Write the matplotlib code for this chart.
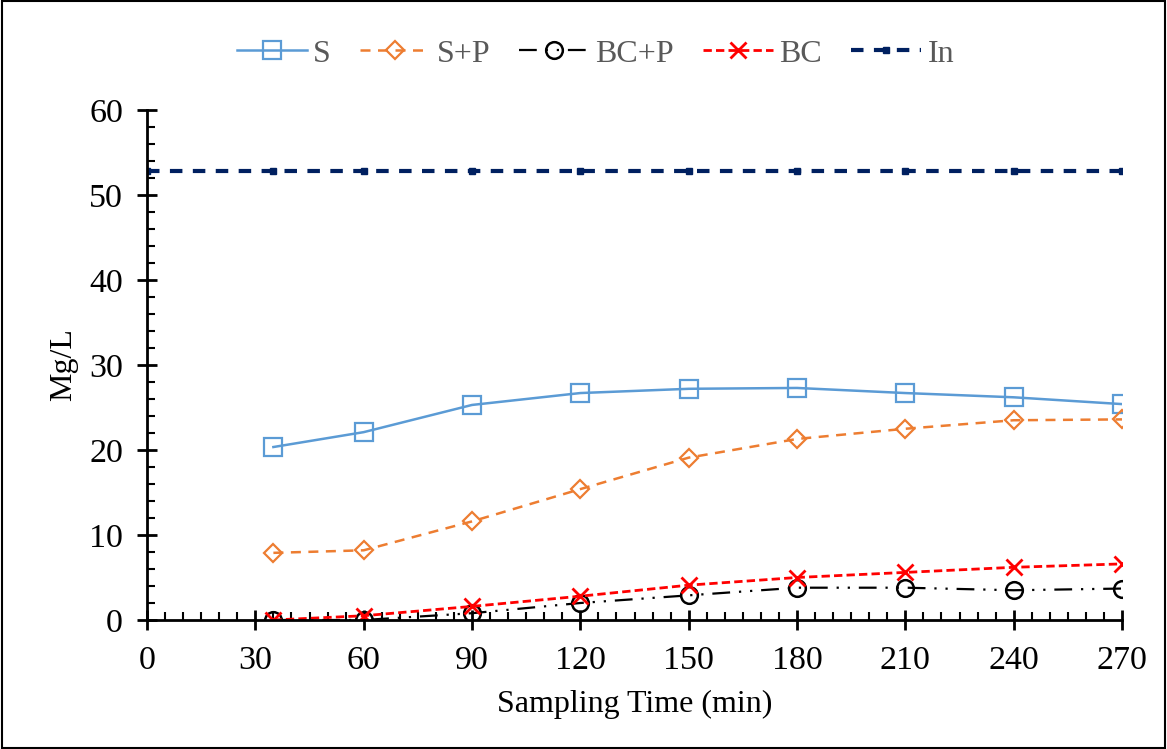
import matplotlib
matplotlib.use("Agg")
import matplotlib.pyplot as plt
from matplotlib.ticker import MultipleLocator

plt.rcParams['font.family'] = ['Liberation Serif', 'DejaVu Serif']

x = [35, 60, 90, 120, 150, 180, 210, 240, 270]
s = [20.35, 22.1, 25.3, 26.7, 27.2, 27.3, 26.7, 26.2, 25.4]
sp = [7.9, 8.2, 11.6, 15.4, 19.1, 21.3, 22.5, 23.5, 23.6]
bcp = [0.0, 0.0, 0.8, 2.0, 2.9, 3.8, 3.8, 3.5, 3.7]
bc = [0.0, 0.5, 1.6, 2.8, 4.1, 5.0, 5.6, 6.2, 6.6]
x_in = [0, 35, 60, 90, 120, 150, 180, 210, 240, 270]
inflow = [52.8] * 10

fig = plt.figure(figsize=(11.67, 7.49), dpi=100)
ax = fig.add_axes([147/1167, 1-620/749, (1122-147)/1167, (620-110)/749])

ax.plot(x, s, color='#5B9BD5', lw=1.8, marker='s', ms=13, mfc='none', mew=1.6, label='S')
ax.plot(x, sp, color='#ED7D31', lw=1.8, ls=(0, (4, 3)), marker='D', ms=9, mfc='none', mew=1.6, label='S+P')
ax.plot(x, bcp, color='black', lw=1.6, ls=(0, (8, 4, 1, 4, 1, 4)), marker='o', ms=12, mfc='none', mew=1.8, label='BC+P')
ax.plot(x, bc, color='#FF0000', lw=2, ls=(0, (3, 1.5)), marker='x', ms=12, mew=2, label='BC')
ax.plot(x_in, inflow, color='#002060', lw=3, ls=(0, (3, 2.5)), marker='s', ms=4, mfc='#002060', mew=1, label='In')

ax.set_xlim(0, 270)
ax.set_ylim(0, 60)
ax.xaxis.set_major_locator(MultipleLocator(30))
ax.xaxis.set_minor_locator(MultipleLocator(5))
ax.yaxis.set_major_locator(MultipleLocator(10))
ax.yaxis.set_minor_locator(MultipleLocator(2))

for sp_ in ['top', 'right']:
    ax.spines[sp_].set_visible(False)
for sp_ in ['left', 'bottom']:
    ax.spines[sp_].set_linewidth(2)
    ax.spines[sp_].set_color('black')

ax.tick_params(which='major', direction='inout', length=14.4, width=2, labelsize=24.5, colors='black')
ax.tick_params(axis='x', which='major', pad=11)
ax.tick_params(axis='y', which='major', pad=10)
ax.tick_params(which='minor', direction='in', length=5.5, width=1.5, colors='black')
ax.set_xlabel('Sampling Time (min)', fontsize=23, labelpad=10)
ax.set_ylabel('Mg/L', fontsize=23, labelpad=8)

leg = ax.legend(loc='lower center', bbox_to_anchor=(0.46, 1.025), ncol=5, frameon=False,
                fontsize=23, handlelength=2.2, columnspacing=0.9, handletextpad=0.2)
for t in leg.get_texts():
    t.set_color('#595959')

fig.patches.append(plt.Rectangle((0.002, 0.002), 0.996, 0.996, transform=fig.transFigure,
                                 fill=False, edgecolor='black', lw=1.5))
fig.savefig('out.png', dpi=100)
